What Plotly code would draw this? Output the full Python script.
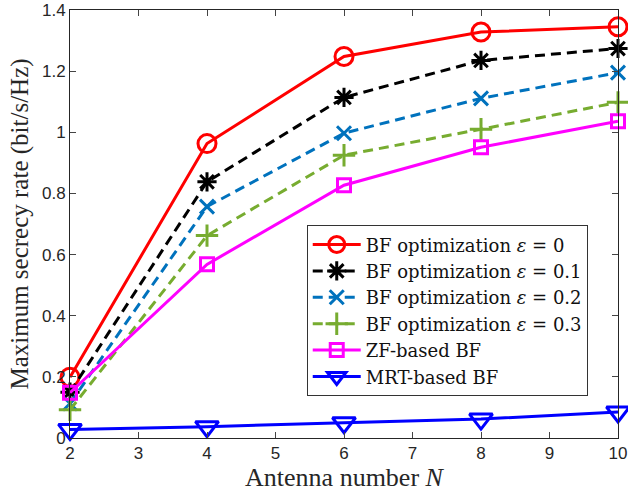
import plotly.graph_objects as go

N = [2, 4, 6, 8, 10]
bf_eps0 = [0.199, 0.963, 1.248, 1.328, 1.345]
bf_eps01 = [0.150, 0.838, 1.114, 1.235, 1.274]
bf_eps02 = [0.113, 0.757, 0.997, 1.111, 1.195]
bf_eps03 = [0.092, 0.662, 0.925, 1.010, 1.098]
zf_bf = [0.148, 0.568, 0.827, 0.951, 1.036]
mrt_bf = [0.028, 0.037, 0.050, 0.062, 0.085]

names = [
    "BF optimization <i>ε</i> = 0",
    "BF optimization <i>ε</i> = 0.1",
    "BF optimization <i>ε</i> = 0.2",
    "BF optimization <i>ε</i> = 0.3",
    "ZF-based BF",
    "MRT-based BF",
]
series = [bf_eps0, bf_eps01, bf_eps02, bf_eps03, zf_bf, mrt_bf]
colors = ["#FF0000", "#000000", "#0072BD", "#77AC30", "#FF00FF", "#0000FF"]
dashes = ["solid", "10px,6px", "10px,6px", "10px,6px", "solid", "solid"]
symbols = ["circle-open", "asterisk-open", "x-thin-open", "cross-thin-open", "square-open", "triangle-down-open"]
msizes = [18, 16, 14, 16, 13, 20]

fig = go.Figure()
for nm, ys, c, d, s, ms in zip(names, series, colors, dashes, symbols, msizes):
    fig.add_trace(go.Scatter(
        x=N, y=ys, name=nm, mode="lines+markers",
        line=dict(color=c, width=3, dash=d),
        marker=dict(symbol=s, size=ms, color=c, line=dict(color=c, width=3)),
        cliponaxis=False,
    ))

serif = "DejaVu Serif, serif"
title_serif = "Liberation Serif, Times New Roman, serif"
sans = "Liberation Sans, Arial, sans-serif"
fig.update_layout(
    width=628, height=494,
    margin=dict(l=70, r=10, t=10, b=56, autoexpand=False),
    plot_bgcolor="white", paper_bgcolor="white",
    showlegend=True,
    legend=dict(
        x=0.432, y=0.497, xanchor="left", yanchor="top",
        bgcolor="white", bordercolor="#333333", borderwidth=1,
        font=dict(family=serif, size=18, color="#111111"),
        tracegroupgap=0, itemwidth=48,
    ),
)
fig.update_xaxes(
    range=[2, 10], tickvals=list(range(2, 11)),
    ticks="inside", ticklen=6, mirror="ticks", showline=True,
    linecolor="#262626", linewidth=1, showgrid=False, zeroline=False,
    tickfont=dict(family=sans, size=17, color="#262626"),
    ticklabeloverflow="allow", automargin=False,
    title=dict(text="Antenna number <i>N</i>", font=dict(family=title_serif, size=26, color="#262626"), standoff=4),
)
fig.update_yaxes(
    range=[0, 1.40001], tickvals=[0, 0.2, 0.4, 0.6, 0.8, 1, 1.2, 1.4],
    ticktext=["0", "0.2", "0.4", "0.6", "0.8", "1", "1.2", "1.4"],
    ticks="inside", ticklen=6, mirror="ticks", showline=True,
    linecolor="#262626", linewidth=1, showgrid=False, zeroline=False,
    tickfont=dict(family=sans, size=17, color="#262626"),
    ticklabeloverflow="allow", automargin=False,
    title=dict(text="Maximum secrecy rate (bit/s/Hz)", font=dict(family=title_serif, size=25, color="#262626"), standoff=6),
)
fig.write_html("out.html")
